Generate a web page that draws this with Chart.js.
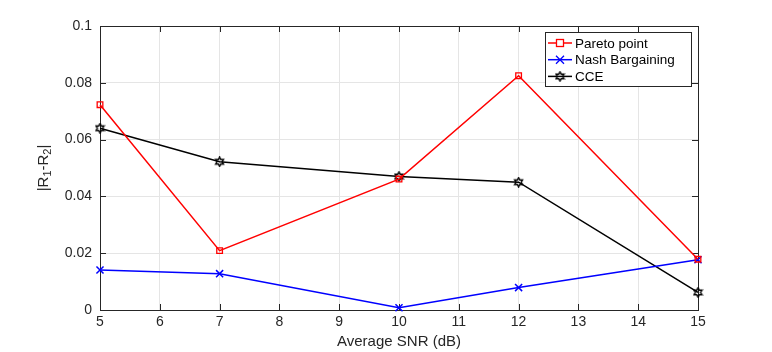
<!DOCTYPE html>
<html>
<head>
<meta charset="utf-8">
<script src="https://cdn.jsdelivr.net/npm/chart.js@4.4.1/dist/chart.umd.min.js"></script>
<style>
  html, body { margin: 0; padding: 0; background: #fff; }
  #wrap { width: 772px; height: 352px; }
</style>
</head>
<body>
<div id="wrap"><canvas id="chart" width="772" height="352"></canvas></div>
<script>
// data
const snr = [5, 7, 10, 12, 15];
const pareto = [0.0723, 0.0209, 0.0461, 0.0825, 0.0179];
const nash = [0.0141, 0.0128, 0.0008, 0.0079, 0.0177];
const cce = [0.0640, 0.0522, 0.0470, 0.0450, 0.0062];
const xTicks = [5, 6, 7, 8, 9, 10, 11, 12, 13, 14, 15];
const yTicks = [0, 0.02, 0.04, 0.06, 0.08, 0.1];

const FONT = 'Liberation Sans, Arial, sans-serif';
const AXIS = '#262626';

// hexagram marker like matlab's 'h'
function hexagram(color) {
    const c = document.createElement('canvas');
    c.width = 11; c.height = 11;
    const g = c.getContext('2d');
    g.strokeStyle = color;
    g.lineWidth = 1.4;
    const cx = 5.5, cy = 5.5, R = 4.6, r = 2.6;
    g.beginPath();
    for (let i = 0; i < 12; i++) {
        const a = -Math.PI / 2 + i * Math.PI / 6;
        const rr = i % 2 === 0 ? R : r;
        const px = cx + rr * Math.cos(a), py = cy + rr * Math.sin(a);
        if (i === 0) g.moveTo(px, py); else g.lineTo(px, py);
    }
    g.closePath();
    g.stroke();
    return c;
}
const hexMark = hexagram('#000');

function toPts(ys) {
    return snr.map((x, i) => ({ x: x, y: ys[i] }));
}

// box, inner ticks, axis titles and legend
const matlabLook = {
    id: 'matlabLook',
    beforeDatasetsDraw(chart) {
        const { ctx, chartArea: a, scales: { x, y } } = chart;
        ctx.save();
        ctx.strokeStyle = AXIS;
        ctx.lineWidth = 1;
        ctx.strokeRect(Math.round(a.left) + 0.5, Math.round(a.top) + 0.5,
            Math.round(a.right - a.left), Math.round(a.bottom - a.top));
        ctx.beginPath();
        xTicks.forEach(v => {
            const px = Math.round(x.getPixelForValue(v)) + 0.5;
            ctx.moveTo(px, a.bottom); ctx.lineTo(px, a.bottom - 6);
            ctx.moveTo(px, a.top); ctx.lineTo(px, a.top + 6);
        });
        yTicks.forEach(v => {
            const py = Math.round(y.getPixelForValue(v)) + 0.5;
            ctx.moveTo(a.left, py); ctx.lineTo(a.left + 6, py);
            ctx.moveTo(a.right, py); ctx.lineTo(a.right - 6, py);
        });
        ctx.stroke();

        // x title
        ctx.fillStyle = AXIS;
        ctx.font = '15px ' + FONT;
        ctx.textAlign = 'center';
        ctx.textBaseline = 'middle';
        ctx.fillText('Average SNR (dB)', (a.left + a.right) / 2, 342);

        // y title with subscripts
        ctx.translate(44, (a.top + a.bottom) / 2);
        ctx.rotate(-Math.PI / 2);
        const parts = [['|R', 15, 0], ['1', 11, 4], ['-R', 15, 0], ['2', 11, 4], ['|', 15, 0]];
        let w = 0;
        parts.forEach(p => { ctx.font = p[1] + 'px ' + FONT; w += ctx.measureText(p[0]).width; });
        let cx = -w / 2;
        ctx.textAlign = 'left';
        parts.forEach(p => {
            ctx.font = p[1] + 'px ' + FONT;
            ctx.fillText(p[0], cx, p[2]);
            cx += ctx.measureText(p[0]).width;
        });
        ctx.restore();
    },
    afterDatasetsDraw(chart) {
        const { ctx } = chart;
        // legend
        ctx.save();
        const lx = 545, ly = 32, lw = 146, lh = 54;
        ctx.fillStyle = '#fff';
        ctx.fillRect(lx, ly, lw, lh);
        ctx.strokeStyle = AXIS;
        ctx.lineWidth = 1;
        ctx.strokeRect(lx + 0.5, ly + 0.5, lw, lh);
        ctx.font = '13.5px ' + FONT;
        ctx.textBaseline = 'middle';
        ctx.textAlign = 'left';
        chart.data.datasets.forEach((ds, i) => {
            const ry = ly + 11 + i * 16.7;
            ctx.strokeStyle = ds.borderColor;
            ctx.lineWidth = 1.5;
            ctx.beginPath();
            ctx.moveTo(lx + 3, ry); ctx.lineTo(lx + 27, ry);
            ctx.stroke();
            drawMarker(ctx, ds, lx + 15, ry);
            ctx.fillStyle = '#000';
            ctx.fillText(ds.label, lx + 30, ry + 1);
        });
        ctx.restore();
    }
};

function drawMarker(ctx, ds, px, py) {
    ctx.save();
    ctx.strokeStyle = ds.borderColor;
    ctx.lineWidth = 1.3;
    if (ds.pointStyle === 'rect') {
        ctx.fillStyle = '#fff';
        ctx.fillRect(px - 3.5, py - 3.5, 7, 7);
        ctx.strokeRect(px - 3.5, py - 3.5, 7, 7);
    } else if (ds.pointStyle === 'crossRot') {
        ctx.beginPath();
        ctx.moveTo(px - 4, py - 4); ctx.lineTo(px + 4, py + 4);
        ctx.moveTo(px + 4, py - 4); ctx.lineTo(px - 4, py + 4);
        ctx.stroke();
    } else {
        ctx.drawImage(hexMark, px - 5.5, py - 5.5);
    }
    ctx.restore();
}

new Chart(document.getElementById('chart'), {
    type: 'line',
    data: {
        datasets: [
            {
                label: 'Pareto point',
                data: toPts(pareto),
                borderColor: '#ff0000',
                backgroundColor: 'rgba(0,0,0,0)',
                pointStyle: 'rect',
                pointRadius: 4,
                pointBorderWidth: 1.3,
                borderWidth: 1.5,
                clip: false
            },
            {
                label: 'Nash Bargaining',
                data: toPts(nash),
                borderColor: '#0000ff',
                backgroundColor: '#0000ff',
                pointStyle: 'crossRot',
                pointRadius: 5,
                pointBorderWidth: 1.5,
                borderWidth: 1.5,
                clip: false
            },
            {
                label: 'CCE',
                data: toPts(cce),
                borderColor: '#000000',
                backgroundColor: '#000000',
                pointStyle: hexMark,
                borderWidth: 1.5,
                clip: false
            }
        ]
    },
    options: {
        responsive: false,
        animation: false,
        events: [],
        layout: { padding: { top: 26, right: 74, left: 0, bottom: 0 } },
        plugins: { legend: { display: false }, tooltip: { enabled: false } },
        scales: {
            x: {
                type: 'linear',
                min: 5, max: 15,
                afterBuildTicks: s => { s.ticks = xTicks.map(v => ({ value: v })); },
                afterFit: s => { s.height = 42; },
                grid: { color: '#e5e5e5', drawTicks: false },
                border: { display: false },
                ticks: { color: AXIS, font: { family: FONT, size: 14 }, padding: 4, maxRotation: 0 }
            },
            y: {
                min: 0, max: 0.1,
                afterBuildTicks: s => { s.ticks = yTicks.map(v => ({ value: v })); },
                afterFit: s => { s.width = 100; },
                grid: { color: '#e5e5e5', drawTicks: false },
                border: { display: false },
                ticks: {
                    color: AXIS, font: { family: FONT, size: 14 }, padding: 8,
                    callback: v => String(Math.round(v * 100) / 100)
                }
            }
        }
    },
    plugins: [matlabLook]
});
</script>
</body>
</html>
